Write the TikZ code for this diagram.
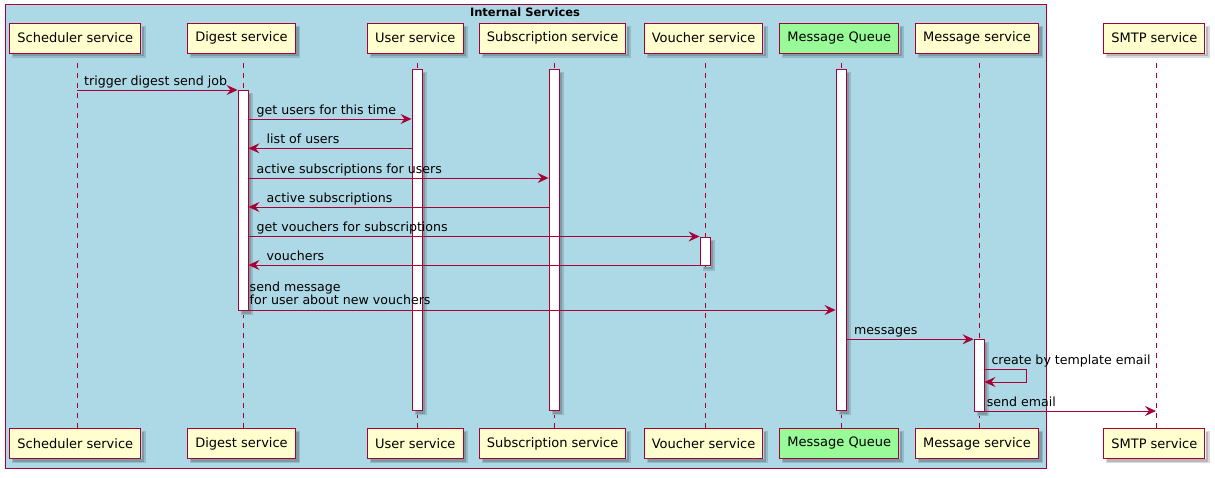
\documentclass[tikz,border=0pt]{standalone}
\usepackage{fontspec}
\setmainfont{DejaVu Sans}
\usetikzlibrary{arrows.meta}
\definecolor{pu}{HTML}{A80036}
\definecolor{pfill}{HTML}{FEFECE}
\definecolor{bgblue}{HTML}{ADD8E6}
\definecolor{mqgreen}{HTML}{98FB98}
\colorlet{shadin}{bgblue!72!black}
\colorlet{shadin2}{bgblue!86!black}
\colorlet{shadout}{white!72!black}
\colorlet{shadout2}{white!86!black}
\begin{document}
\begin{tikzpicture}[x=1pt,y=-1pt,
  part/.style={draw=pu,fill=pfill,line width=0.9pt,minimum height=30pt,inner xsep=7.5pt,inner ysep=0pt,font=\fontsize{13}{15}\selectfont},
  qpart/.style={part,fill=mqgreen},
  life/.style={draw=pu,line width=0.8pt,dash pattern=on 5pt off 5pt},
  actbar/.style={draw=pu,fill=white,line width=0.9pt,minimum width=10pt,inner sep=0pt,anchor=north},
  msg/.style={draw=pu,line width=0.9pt,-{Stealth[length=11pt,width=10pt,inset=4pt]}},
  lbl/.style={font=\fontsize{12.6}{14}\selectfont,anchor=base west,inner sep=0pt},
  framebox/.style={draw=pu,fill=bgblue,line width=0.9pt,anchor=north west,inner sep=0pt}
]
\useasboundingbox (0,0) rectangle (1215,478);
% frame
\node[framebox,minimum width=1041pt,minimum height=464pt] (frame) at (5,4) {};
\node[font=\bfseries\fontsize{11.5}{13}\selectfont,anchor=base,inner sep=0pt] (ftitle) at (525,17) {Internal Services};

% lifeline x coordinates
\coordinate (Lsch) at (77,0);
\coordinate (Ldig) at (243,0);
\coordinate (Lusr) at (417,0);
\coordinate (Lsub) at (554,0);
\coordinate (Lvou) at (705,0);
\coordinate (Lmq) at (841,0);
\coordinate (Lmsg) at (979,0);
\coordinate (Lsmtp) at (1156,0);

% participants top
\node[part] (schT) at (75.3,38) {Scheduler service};
\node[part] (digT) at (241.5,38) {Digest service};
\node[part] (usrT) at (415.3,38) {User service};
\node[part] (subT) at (552.5,38) {Subscription service};
\node[part] (vouT) at (703.5,38) {Voucher service};
\node[qpart] (mqT) at (839.3,38) {Message Queue};
\node[part] (msgT) at (977,38) {Message service};
\node[part] (smtpT) at (1154.3,38) {SMTP service};
% participants bottom
\node[part] (schB) at (75.3,443.5) {Scheduler service};
\node[part] (digB) at (241.5,443.5) {Digest service};
\node[part] (usrB) at (415.3,443.5) {User service};
\node[part] (subB) at (552.5,443.5) {Subscription service};
\node[part] (vouB) at (703.5,443.5) {Voucher service};
\node[qpart] (mqB) at (839.3,443.5) {Message Queue};
\node[part] (msgB) at (977,443.5) {Message service};
\node[part] (smtpB) at (1154.3,443.5) {SMTP service};

% lifelines
\foreach \n in {sch,dig,usr,sub,vou,mq,msg,smtp}{
  \draw[life] (L\n |- \n T.south) -- (L\n |- \n B.north);
}

% activation bars
\node[actbar,minimum height=341pt] (usrA) at (417,69) {};
\node[actbar,minimum height=341pt] (subA) at (554,69) {};
\node[actbar,minimum height=341pt] (mqA) at (841,69) {};
\node[actbar,minimum height=220pt] (digA) at (243,90) {};
\node[actbar,minimum height=28.5pt] (vouA) at (705,236.7) {};
\node[actbar,minimum height=71.5pt] (msgA) at (979,339.3) {};

% soft shadows (two tones)
\foreach \n in {schT,digT,usrT,subT,vouT,mqT,msgT,schB,digB,usrB,subB,vouB,mqB,msgB,usrA,subA,mqA,digA,vouA,msgA}{
  \fill[shadin2] ([shift={(0.5,3)}]\n.north east) rectangle ([shift={(4.5,4.5)}]\n.south east);
  \fill[shadin2] ([shift={(3,0.5)}]\n.south west) rectangle ([shift={(4.5,4.5)}]\n.south east);
  \fill[shadin] ([shift={(0.5,4)}]\n.north east) rectangle ([shift={(3,3)}]\n.south east);
  \fill[shadin] ([shift={(4,0.5)}]\n.south west) rectangle ([shift={(3,3)}]\n.south east);
}
\foreach \n in {smtpT,smtpB}{
  \fill[shadout2] ([shift={(0.5,3)}]\n.north east) rectangle ([shift={(4.5,4.5)}]\n.south east);
  \fill[shadout2] ([shift={(3,0.5)}]\n.south west) rectangle ([shift={(4.5,4.5)}]\n.south east);
  \fill[shadout] ([shift={(0.5,4)}]\n.north east) rectangle ([shift={(3,3)}]\n.south east);
  \fill[shadout] ([shift={(4,0.5)}]\n.south west) rectangle ([shift={(3,3)}]\n.south east);
}

% messages
\draw[msg] (Lsch |- 0,90) -- (digA.west |- 0,90);
\node[lbl] (l1) at (84,86) {trigger digest send job};

\draw[msg] (digA.east |- 0,119) -- (usrA.west |- 0,119);
\node[lbl] (l2) at (256.5,115) {get users for this time};

\draw[msg] (usrA.west |- 0,148.3) -- (digA.east |- 0,148.3);
\node[lbl] (l3) at (266.5,143.5) {list of users};

\draw[msg] (digA.east |- 0,178) -- (subA.west |- 0,178);
\node[lbl] (l4) at (256.5,173.5) {active subscriptions for users};

\draw[msg] (subA.west |- 0,207) -- (digA.east |- 0,207);
\node[lbl] (l5) at (266.5,202.5) {active subscriptions};

\draw[msg] (digA.east |- 0,236.5) -- (vouA.west |- 0,236.5);
\node[lbl] (l6) at (256.5,231.7) {get vouchers for subscriptions};

\draw[msg] (vouA.west |- 0,265) -- (digA.east |- 0,265);
\node[lbl] (l7) at (266.5,261) {vouchers};

\draw[msg] (digA.east |- 0,310) -- (mqA.west |- 0,310);
\node[lbl] (l8a) at (249.5,291) {send message};
\node[lbl] (l8b) at (249.5,305) {for user about new vouchers};

\draw[msg] (mqA.east |- 0,339.3) -- (msgA.west |- 0,339.3);
\node[lbl] (l9) at (854,334.7) {messages};

\draw[msg] (msgA.east |- 0,369.5) -- ++(41.5,0) -- ++(0,12.5) -- (msgA.east |- 0,382);
\node[lbl] (l10) at (991.3,364) {create by template email};

\draw[msg] (msgA.east |- 0,411) -- (Lsmtp |- 0,411);
\node[lbl] (l11) at (986.7,406.7) {send email};
\end{tikzpicture}
\end{document}
